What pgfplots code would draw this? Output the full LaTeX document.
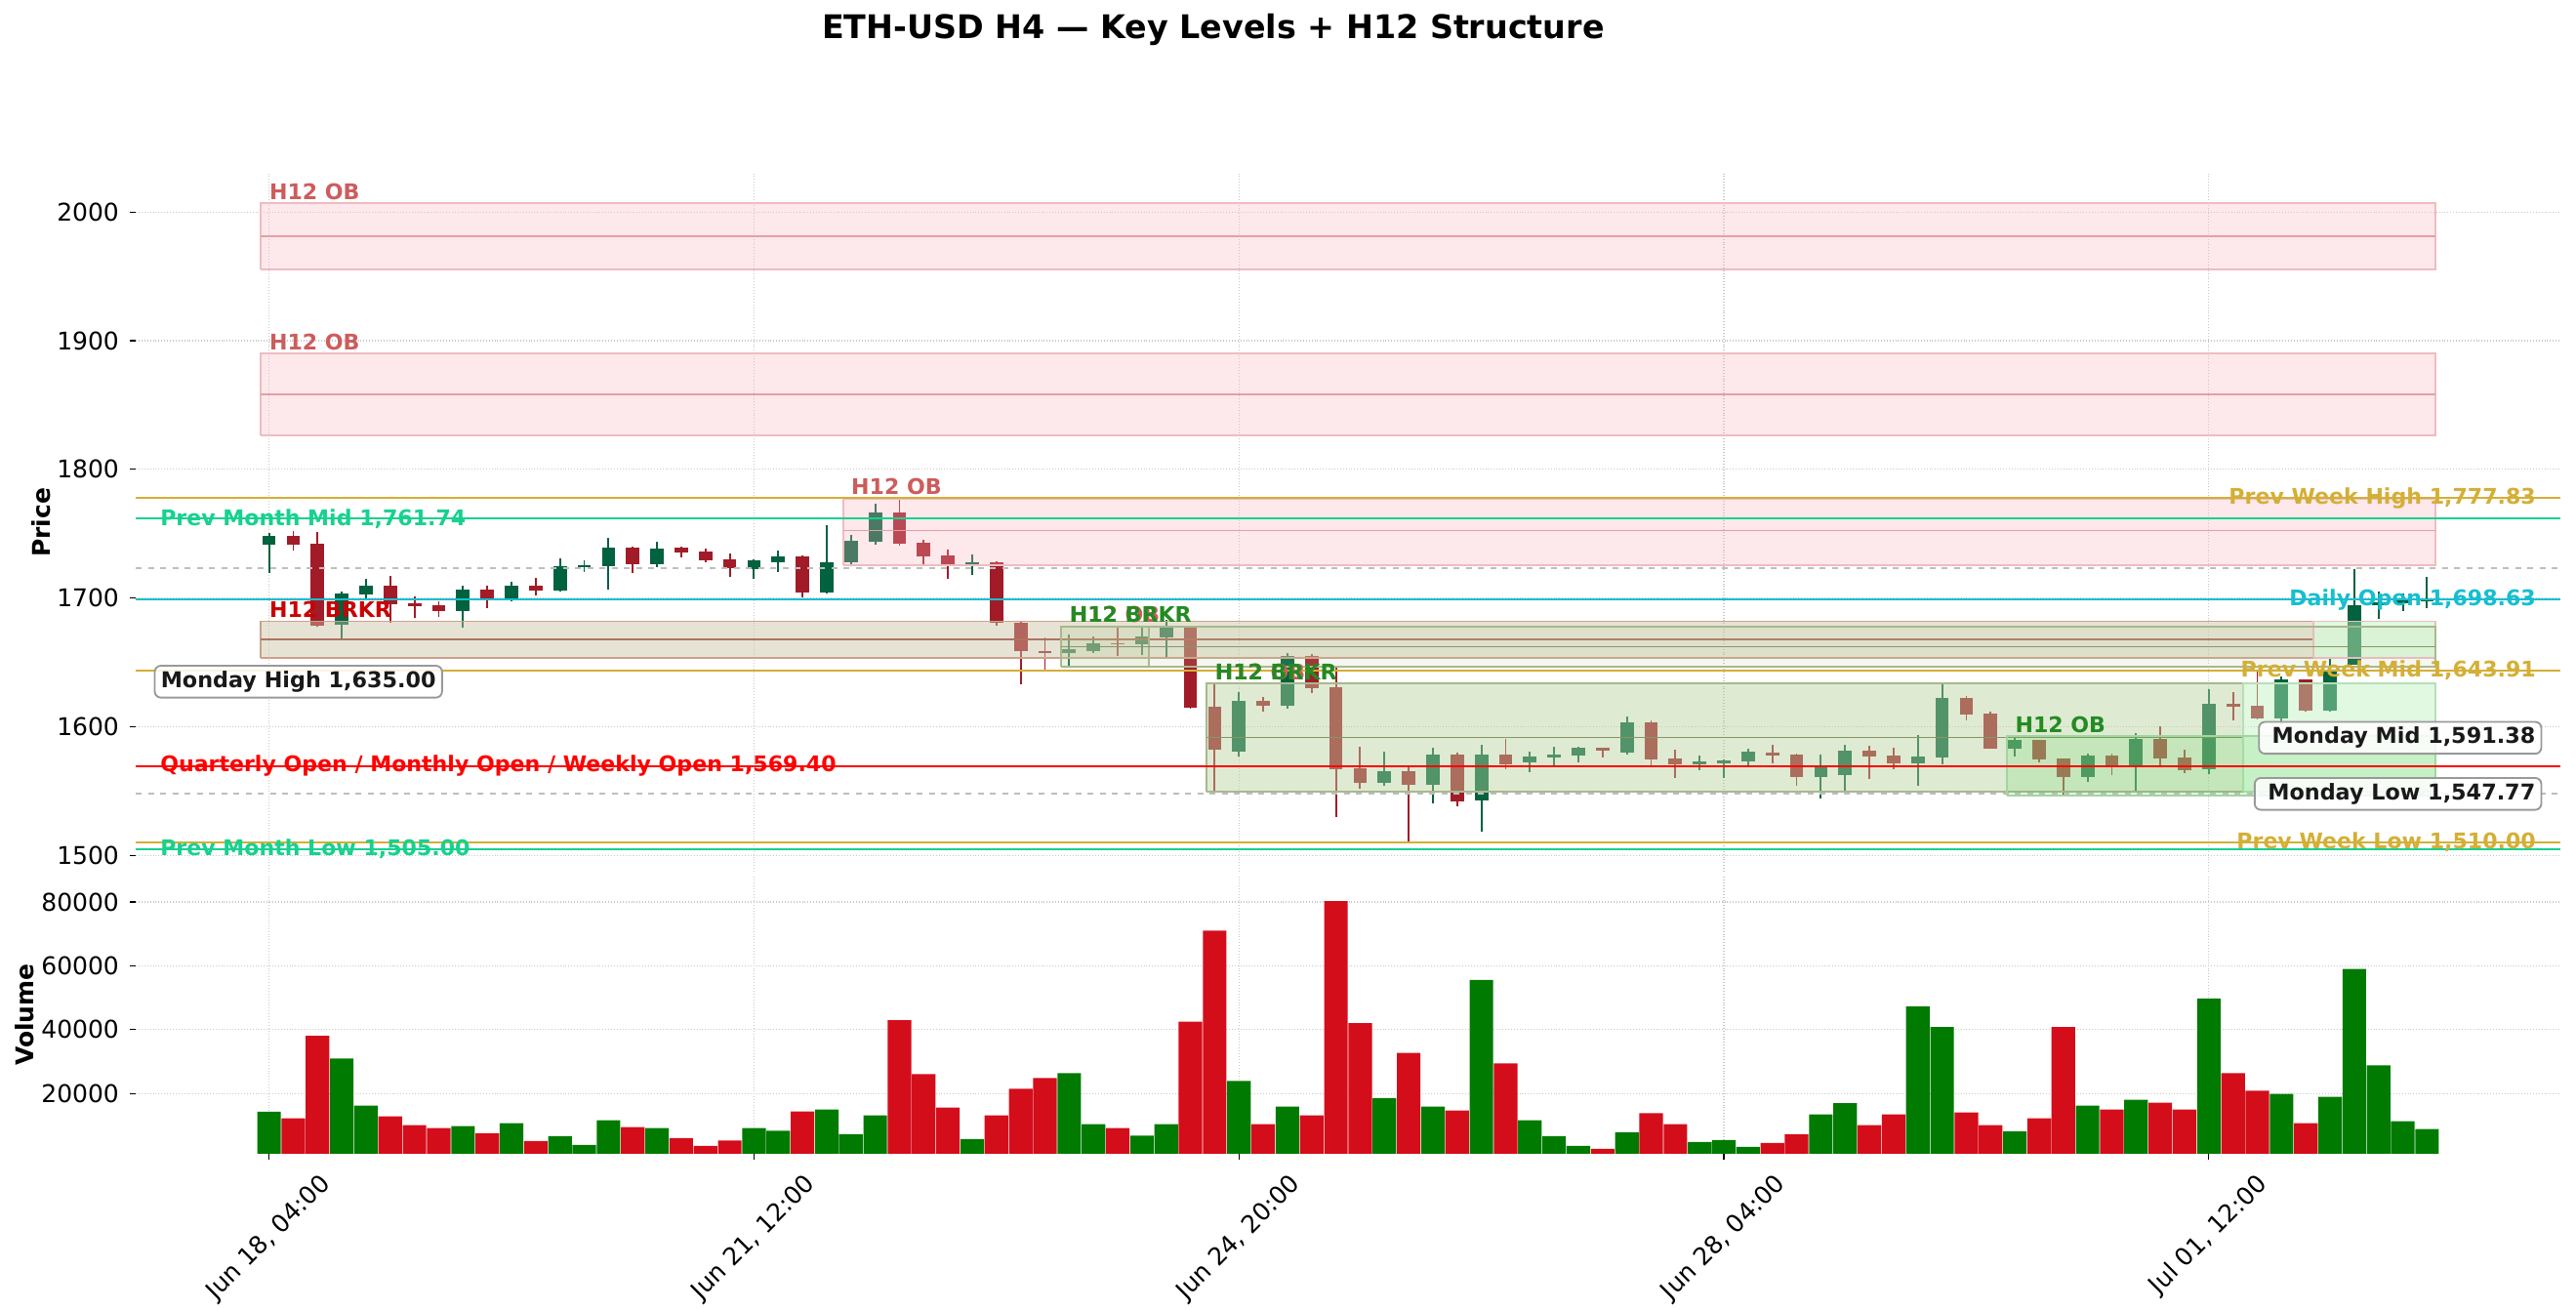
\documentclass[border=0pt]{standalone}
\usepackage{fontspec}
\setmainfont{DejaVu Sans}
\usepackage{pgfplots}
\usepackage{pgfplotstable}
\pgfplotsset{compat=1.18}

\definecolor{cup}{RGB}{0,98,62}
\definecolor{cdn}{RGB}{161,28,40}
\definecolor{vup}{RGB}{0,122,0}
\definecolor{vdn}{RGB}{212,13,26}
\definecolor{cgold}{RGB}{212,175,55}
\definecolor{cpm}{RGB}{23,209,143}
\definecolor{ccyan}{RGB}{23,190,207}
\definecolor{cgrid}{RGB}{200,200,200}
\definecolor{cdash}{RGB}{190,190,190}
\definecolor{obred}{RGB}{205,92,92}
\definecolor{brkred}{RGB}{204,0,0}
\definecolor{fgreen}{RGB}{34,139,34}
\definecolor{obfill}{RGB}{248,178,188}
\definecolor{obedge}{RGB}{238,188,192}
\definecolor{obmid}{RGB}{226,160,166}
\definecolor{tanfill}{RGB}{199,193,159}
\definecolor{tanedge}{RGB}{205,160,140}
\definecolor{tanmid}{RGB}{175,115,95}
\definecolor{gzfill}{RGB}{184,208,157}
\definecolor{gzedge}{RGB}{168,184,142}
\definecolor{gzmid}{RGB}{135,150,105}
\definecolor{lgfill}{RGB}{188,239,188}
\definecolor{lgedge}{RGB}{182,224,182}
\definecolor{obgfill}{RGB}{50,205,50}
\definecolor{obgedge}{RGB}{160,214,160}

% candles: index, open, high, low, close, up(1)/down(0), volume
\pgfplotstableread{
i o h l c d v
0 1741.5 1750.9 1719.7 1748.4 1 14261
1 1748.4 1752.4 1737.0 1741.5 0 12209
2 1742.3 1751.7 1678.1 1678.6 0 38065
3 1679.1 1705.0 1668.9 1703.4 1 30985
4 1702.7 1714.9 1699.4 1709.5 1 16211
5 1709.5 1717.4 1680.6 1695.1 0 12825
6 1695.8 1701.4 1684.2 1693.6 0 10055
7 1694.3 1697.6 1685.7 1689.5 0 9131
8 1689.7 1709.8 1677.3 1706.5 1 9747
9 1706.5 1709.8 1691.8 1698.9 0 7592
10 1698.9 1712.6 1697.1 1709.5 1 10670
11 1709.5 1715.9 1702.2 1705.7 0 5130
12 1705.7 1731.1 1704.7 1724.8 1 6669
13 1724.3 1729.3 1720.0 1725.5 1 3899
14 1724.8 1747.1 1706.2 1739.2 1 11594
15 1739.2 1740.0 1719.2 1726.3 0 9439
16 1726.3 1744.1 1724.3 1738.5 1 9131
17 1739.2 1739.6 1731.4 1735.4 0 6053
18 1736.2 1738.7 1727.6 1729.3 0 3591
19 1730.1 1734.9 1716.7 1723.5 0 5233
20 1722.5 1730.1 1714.6 1729.3 1 9131
21 1727.6 1737.0 1720.0 1732.4 1 8311
22 1732.4 1733.1 1700.2 1704.0 0 14364
23 1704.0 1756.8 1703.5 1727.6 1 14980
24 1727.6 1749.4 1725.0 1744.6 1 7285
25 1744.1 1773.0 1741.3 1766.6 1 13133
26 1766.6 1776.8 1740.5 1742.3 0 42989
27 1743.0 1745.6 1726.5 1732.4 0 26060
28 1733.1 1738.0 1714.6 1725.5 0 15595
29 1725.5 1734.2 1717.7 1727.6 1 5746
30 1727.6 1728.6 1678.6 1680.4 0 13133
31 1680.9 1682.1 1632.9 1658.8 0 21443
32 1659.0 1669.4 1643.0 1657.0 0 24829
33 1657.0 1671.7 1646.8 1660.0 1 26368
34 1659.0 1670.2 1657.5 1665.1 1 10363
35 1665.1 1677.8 1655.2 1663.9 0 9131
36 1664.1 1676.8 1655.7 1670.5 1 6772
37 1669.7 1683.1 1652.7 1677.3 1 10363
38 1677.8 1678.6 1613.9 1615.1 0 42476
39 1615.4 1633.2 1550.2 1581.9 0 70999
40 1580.9 1626.8 1577.1 1620.0 1 23906
41 1620.0 1623.0 1612.1 1616.2 0 10363
42 1615.9 1657.3 1614.1 1654.7 1 15903
43 1654.7 1656.5 1625.8 1629.9 0 13133
44 1630.6 1646.6 1529.9 1566.7 0 80300
45 1567.7 1584.4 1551.9 1556.0 0 42066
46 1556.0 1580.6 1554.0 1565.1 1 18571
47 1565.1 1569.5 1510.0 1554.5 0 32729
48 1554.5 1583.7 1540.5 1578.6 1 15903
49 1578.6 1579.9 1538.0 1542.3 0 14672
50 1542.3 1585.9 1518.4 1578.1 1 55609
51 1578.1 1590.5 1567.2 1571.0 0 29446
52 1572.0 1580.6 1564.6 1576.6 1 11594
53 1576.1 1584.4 1569.7 1578.1 1 6669
54 1577.3 1584.2 1572.2 1583.4 1 3591
55 1583.4 1583.6 1576.1 1581.1 0 2668
56 1579.9 1607.8 1578.3 1603.2 1 7900
57 1603.2 1605.0 1569.7 1574.8 0 13851
58 1575.5 1582.1 1560.3 1571.0 0 10363
59 1571.0 1577.3 1566.4 1572.8 1 4822
60 1571.7 1574.8 1560.1 1573.8 1 5438
61 1572.8 1582.9 1570.2 1580.4 1 3283
62 1579.8 1585.6 1571.7 1577.5 0 4514
63 1578.5 1579.0 1553.7 1560.8 0 7285
64 1560.8 1578.5 1544.5 1568.4 1 13441
65 1562.1 1586.2 1547.6 1581.3 1 16929
66 1581.3 1585.4 1559.0 1576.8 0 10055
67 1577.5 1583.9 1566.6 1571.2 0 13441
68 1571.7 1593.8 1553.9 1576.8 1 47299
69 1576.3 1633.4 1570.4 1622.4 1 40835
70 1622.4 1623.5 1604.7 1609.8 0 14056
71 1610.5 1611.5 1582.6 1583.1 0 10055
72 1583.1 1592.5 1576.8 1589.5 1 8208
73 1589.5 1590.0 1572.5 1574.2 0 12209
74 1575.0 1575.5 1547.6 1560.8 0 40835
75 1560.8 1578.8 1557.2 1577.5 1 16211
76 1577.5 1579.0 1562.1 1569.9 0 14980
77 1569.7 1595.3 1550.1 1590.2 1 18058
78 1590.2 1600.4 1569.7 1575.5 0 17134
79 1576.0 1582.3 1564.1 1565.9 0 14980
80 1566.6 1628.8 1562.8 1617.9 1 49761
81 1617.9 1626.8 1604.7 1615.6 0 26368
82 1616.1 1642.8 1606.0 1606.5 0 20828
83 1606.5 1638.9 1602.1 1636.9 1 19904
84 1636.9 1637.0 1611.5 1612.3 0 10670
85 1612.3 1652.9 1612.0 1644.0 1 18981
86 1647.8 1722.7 1647.8 1694.8 1 58995
87 1694.8 1704.9 1683.9 1696.6 1 28831
88 1696.0 1703.7 1689.7 1698.0 1 11286
89 1697.5 1716.4 1692.3 1698.6 1 8824
}\candles

\newcommand\lblfont{\fontsize{10.6}{12.5}\selectfont\bfseries}
\newcommand\boxfont{\fontsize{10.7}{12.6}\selectfont\bfseries}

% zone: x1 x2 y1 y2 fill opacity edge
\newcommand\zone[7]{%
  \addplot[fill=#5, fill opacity=#6, draw=#7, line width=0.9pt]
    coordinates {(#1,#3) (#2,#3) (#2,#4) (#1,#4) (#1,#3)};}
\newcommand\midl[4]{%
  \addplot[draw=#4, line width=0.8pt] coordinates {(#1,#3) (#2,#3)};}
\newcommand\lvl[3]{%
  \addplot[draw=#2, line width=1pt, #3] coordinates {(-5.5,#1) (94.5,#1)};}

\pgfplotsset{
  candle/.style n args={2}{draw=none, mark=none,
    restrict expr to domain={\thisrow{d}}{#1},
    error bars/.cd, y dir=both, y explicit, error mark=none,
    error bar style={draw=#2, line width=0.9pt}},
  body/.style n args={2}{draw=none, mark=none,
    restrict expr to domain={\thisrow{d}}{#1},
    error bars/.cd, y dir=both, y explicit, error mark=none,
    error bar style={draw=#2, line width=6.6pt}},
}
\tikzset{
  boxlbl/.style={fill=white, fill opacity=0.85, text opacity=1, draw=gray!80,
    rounded corners=3pt, line width=0.9pt, inner xsep=3pt, inner ysep=2.6pt,
    text=black!90, font=\boxfont},
}

\begin{document}
\begin{tikzpicture}
\useasboundingbox (0,0) rectangle (1266.72pt,644.16pt);

\node[font=\fontsize{16}{19}\selectfont\bfseries] at (596.6pt,629.3pt)
  {ETH-USD H4 — Key Levels + H12 Structure};

\begin{axis}[
  at={(66.72pt,215.52pt)}, anchor=south west,
  scale only axis, width=1192.3pt, height=343.2pt,
  xmin=-5.5, xmax=94.5, ymin=1487.3, ymax=2029.8,
  axis line style={draw=none},
  xtick={0,20,40,60,80}, xticklabels={},
  ytick={1500,1600,1700,1800,1900,2000},
  grid=major, major grid style={densely dotted, cgrid, line width=0.6pt},
  tick align=outside, ytick pos=left, xtick pos=bottom,
  major tick length=3pt,
  xtick style={/pgfplots/major tick length=0pt},
  ytick style={black, line width=0.6pt},
  ticklabel style={font=\fontsize{12}{14}\selectfont},
  yticklabel style={inner sep=0pt, anchor=east, xshift=-5pt},
  /pgf/number format/assume math mode=true,
  /pgf/number format/1000 sep={},
  ylabel={Price},
  ylabel style={font=\fontsize{12}{14}\selectfont\bfseries,
    at={(axis description cs:-0.039,0.5)}, anchor=center},
]
% wicks and bodies
\addplot[candle={0.5:1.5}{cup}] table[x=i, y expr={(\thisrow{h}+\thisrow{l})/2}, y error expr={(\thisrow{h}-\thisrow{l})/2}] {\candles};
\addplot[candle={-0.5:0.5}{cdn}] table[x=i, y expr={(\thisrow{h}+\thisrow{l})/2}, y error expr={(\thisrow{h}-\thisrow{l})/2}] {\candles};
\addplot[body={0.5:1.5}{cup}] table[x=i, y expr={(\thisrow{o}+\thisrow{c})/2}, y error expr={abs(\thisrow{c}-\thisrow{o})/2}] {\candles};
\addplot[body={-0.5:0.5}{cdn}] table[x=i, y expr={(\thisrow{o}+\thisrow{c})/2}, y error expr={abs(\thisrow{c}-\thisrow{o})/2}] {\candles};

% zones
\zone{-0.33}{89.33}{1955.5}{2006.8}{obfill}{0.3}{obedge}
\midl{-0.33}{89.33}{1981.2}{obmid}
\zone{-0.33}{89.33}{1826.5}{1890.0}{obfill}{0.3}{obedge}
\midl{-0.33}{89.33}{1858.2}{obmid}
\zone{23.67}{89.33}{1725.3}{1777.0}{obfill}{0.3}{obedge}
\midl{23.67}{89.33}{1752.4}{obmid}
\zone{-0.33}{84.3}{1653.7}{1681.9}{tanfill}{0.45}{tanedge}
\midl{-0.33}{84.3}{1667.8}{tanmid}
\zone{84.3}{89.33}{1653.7}{1681.9}{lgfill}{0.45}{obedge}
\zone{32.67}{89.33}{1646.8}{1677.8}{gzfill}{0.15}{gzedge}
\zone{32.67}{36.3}{1646.8}{1677.8}{gzfill}{0.15}{gzedge}
\midl{32.67}{89.33}{1662.3}{gzmid}
\zone{38.67}{81.4}{1549.8}{1633.4}{gzfill}{0.45}{gzedge}
\midl{38.67}{81.4}{1591.6}{gzmid}
\zone{81.4}{89.33}{1549.8}{1633.4}{lgfill}{0.45}{lgedge}
\zone{71.67}{89.33}{1546.5}{1592.5}{obgfill}{0.15}{obgedge}

% key levels
\lvl{1777.83}{cgold}{}
\lvl{1761.74}{cpm}{}
\lvl{1723.0}{cdash}{dashed}
\lvl{1698.63}{ccyan}{}
\lvl{1643.91}{cgold}{}
\lvl{1569.40}{red}{}
\lvl{1547.77}{cdash}{dashed}
\lvl{1510.00}{cgold}{}
\lvl{1505.00}{cpm}{}

% zone labels
\node[anchor=base west, inner sep=0pt, text=obred, font=\lblfont] at (axis cs:0,2006.8) [yshift=2pt] {H12 OB};
\node[anchor=base west, inner sep=0pt, text=obred, font=\lblfont] at (axis cs:0,1890.0) [yshift=2pt] {H12 OB};
\node[anchor=base west, inner sep=0pt, text=obred, font=\lblfont] at (axis cs:24,1777.0) [yshift=2pt] {H12 OB};
\node[anchor=base west, inner sep=0pt, text=brkred, font=\lblfont] at (axis cs:0,1681.9) [yshift=2pt] {H12 BRKR};
\node[anchor=base west, inner sep=0pt, text=obred, font=\lblfont] at (axis cs:33,1677.8) [yshift=2pt] {H12 OB};
\node[anchor=base west, inner sep=0pt, text=fgreen, font=\lblfont] at (axis cs:33,1677.8) [yshift=2pt] {H12 BRKR};
\node[anchor=base west, inner sep=0pt, text=obred, font=\lblfont] at (axis cs:39,1633.4) [yshift=2pt] {H12 OB};
\node[anchor=base west, inner sep=0pt, text=fgreen, font=\lblfont] at (axis cs:39,1633.4) [yshift=2pt] {H12 BRKR};
\node[anchor=base west, inner sep=0pt, text=fgreen, font=\lblfont] at (axis cs:72,1592.5) [yshift=2pt] {H12 OB};

% level labels
\node[anchor=west, inner sep=0pt, text=cpm, font=\lblfont] at (axis cs:-4.5,1761.74) {Prev Month Mid 1,761.74};
\node[anchor=west, inner sep=0pt, text=red, font=\lblfont] at (axis cs:-4.5,1569.40) {Quarterly Open / Monthly Open / Weekly Open 1,569.40};
\node[anchor=west, inner sep=0pt, text=cpm, font=\lblfont] at (axis cs:-4.5,1505.00) {Prev Month Low 1,505.00};
\node[anchor=east, inner sep=0pt, text=cgold, font=\lblfont] at (axis cs:93.5,1777.83) {Prev Week High 1,777.83};
\node[anchor=east, inner sep=0pt, text=ccyan, font=\lblfont] at (axis cs:93.5,1698.63) {Daily Open 1,698.63};
\node[anchor=east, inner sep=0pt, text=cgold, font=\lblfont] at (axis cs:93.5,1643.91) {Prev Week Mid 1,643.91};
\node[anchor=east, inner sep=0pt, text=cgold, font=\lblfont] at (axis cs:93.5,1510.00) {Prev Week Low 1,510.00};

\node[boxlbl, anchor=west, xshift=-3pt] at (axis cs:-4.5,1635.00) {Monday High 1,635.00\hspace{3.5pt}};
\node[boxlbl, anchor=east, xshift=3pt] at (axis cs:93.5,1591.38) {\hspace{3.5pt}Monday Mid 1,591.38};
\node[boxlbl, anchor=east, xshift=3pt] at (axis cs:93.5,1547.77) {\hspace{3.5pt}Monday Low 1,547.77};
\end{axis}

\begin{axis}[
  at={(66.72pt,76.8pt)}, anchor=south west,
  scale only axis, width=1192.3pt, height=136.8pt,
  xmin=-5.5, xmax=94.5, ymin=1100, ymax=88277,
  axis line style={draw=none},
  xtick={0,20,40,60,80},
  xticklabels={{\rotatebox{45}{Jun 18, 04:00}},{\rotatebox{45}{Jun 21, 12:00}},{\rotatebox{45}{Jun 24, 20:00}},{\rotatebox{45}{Jun 28, 04:00}},{\rotatebox{45}{Jul 01, 12:00}}},
  ytick={20000,40000,60000,80000},
  scaled y ticks=false,
  grid=major, major grid style={densely dotted, cgrid, line width=0.6pt},
  tick align=outside, ytick pos=left, xtick pos=bottom,
  major tick length=3pt,
  tick style={black, line width=0.6pt},
  ticklabel style={font=\fontsize{12}{14}\selectfont},
  yticklabel style={inner sep=0pt, anchor=east, xshift=-5pt},
  xticklabel style={inner sep=0pt, anchor=north, yshift=-6pt},
  /pgf/number format/assume math mode=true,
  /pgf/number format/1000 sep={},
  ylabel={Volume},
  ylabel style={font=\fontsize{12}{14}\selectfont\bfseries,
    at={(axis description cs:-0.046,0.5)}, anchor=center},
]
\addplot[ybar, bar width=11.6pt, bar shift=0pt, fill=vup, draw=none,
  restrict expr to domain={\thisrow{d}}{0.5:1.5}] table[x=i, y=v] {\candles};
\addplot[ybar, bar width=11.6pt, bar shift=0pt, fill=vdn, draw=none,
  restrict expr to domain={\thisrow{d}}{-0.5:0.5}] table[x=i, y=v] {\candles};
\end{axis}
\end{tikzpicture}
\end{document}
